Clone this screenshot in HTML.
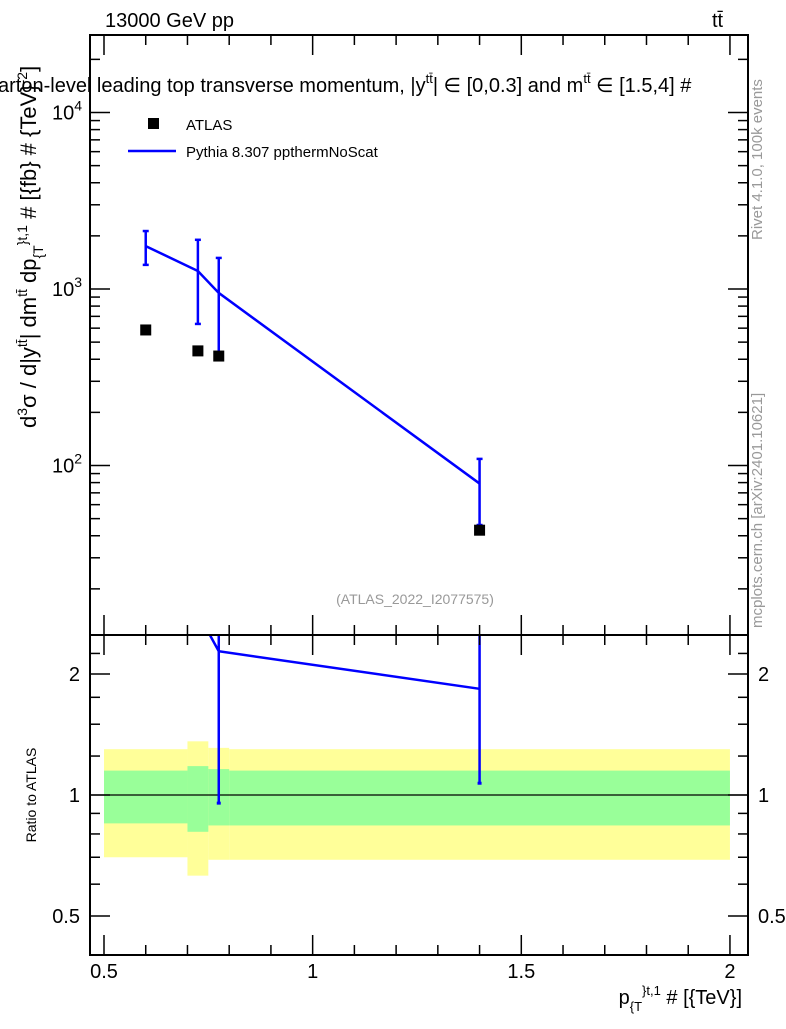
<!DOCTYPE html>
<html><head><meta charset="utf-8"><style>
body{margin:0;background:#fff;width:786px;height:1024px;overflow:hidden;font-family:"Liberation Sans",sans-serif}
svg text{font-family:"Liberation Sans","DejaVu Sans",sans-serif}
</style></head><body>
<svg id="c" width="786" height="1024" xmlns="http://www.w3.org/2000/svg">
<text x="105" y="27" font-size="20">13000 GeV pp</text>
<text x="712" y="27" font-size="20">tt̄</text>
<text x="-2" y="92" font-size="20">arton-level leading top transverse momentum, |y<tspan dy="-9" font-size="13">tt̄</tspan><tspan dy="9">| ∈ [0,0.3] and m</tspan><tspan dy="-9" font-size="13">tt̄</tspan><tspan dy="9"> ∈ [1.5,4] #</tspan></text>
<text transform="translate(762,240) rotate(-90)" font-size="15" fill="#999">Rivet 4.1.0,  100k events</text>
<text transform="translate(762,628) rotate(-90)" font-size="15" fill="#999">mcplots.cern.ch [arXiv:2401.10621]</text>
<text x="415" y="604" font-size="14" fill="#999" text-anchor="middle">(ATLAS_2022_I2077575)</text>
<text transform="translate(36,428) rotate(-90)" font-size="22" text-anchor="start">d<tspan dy="-9" font-size="14">3</tspan><tspan dy="9">σ / d|y</tspan><tspan dy="-9" font-size="14">tt̄</tspan><tspan dy="9">| dm</tspan><tspan dy="-9" font-size="14">tt̄</tspan><tspan dy="9"> dp</tspan><tspan dy="7" font-size="14">{T</tspan><tspan dy="-16" font-size="14">}t,1</tspan><tspan dy="9"> # [{fb} # {TeV}</tspan><tspan dy="-9" font-size="14">-2</tspan><tspan dy="9">]</tspan></text>
<text transform="translate(36,795) rotate(-90)" font-size="14" text-anchor="middle">Ratio to ATLAS</text>
<text x="742" y="1004" font-size="20" text-anchor="end">p<tspan dy="7" font-size="13">{T</tspan><tspan dy="-16" font-size="13">}t,1</tspan><tspan dy="9"> # [{TeV}]</tspan></text>
<rect x="148" y="118" width="11" height="11" fill="#000"/>
<text x="186" y="130" font-size="15">ATLAS</text>
<line x1="128" y1="151" x2="176" y2="151" stroke="#00f" stroke-width="2.5"/>
<text x="186" y="157" font-size="15">Pythia 8.307 ppthermNoScat</text>
<g id="g"></g>
</svg>
<script>
const xEdges=[0.5,0.7,0.75,0.8,2.0];
const xPts=[0.6,0.725,0.775,1.4];
const atlas=[586,446,417,43];
const pythia=[1750,1265,950,79];
const pyUp=[2130,1900,1500,109];
const pyDn=[1370,634,398,46];
const yellowUp=[1.30,1.36,1.31,1.30];
const yellowDn=[0.70,0.63,0.69,0.69];
const greenUp=[1.15,1.18,1.16,1.15];
const greenDn=[0.85,0.81,0.84,0.84];
const xTicks=[0.5,1,1.5,2];
const xTickLabels=["0.5","1","1.5","2"];
const rTicks=[0.5,1,2];
const rTickLabels=["0.5","1","2"];

const L=90,R=748,T=35,M=635,B=955;
const X=v=>104+(v-0.5)*417.3;
const Y=v=>289-(Math.log10(v)-3)*176.5;
const RY=v=>795-Math.log2(v)*121;
const g=document.getElementById('g');
const NS="http://www.w3.org/2000/svg";
function el(t,a,p){const e=document.createElementNS(NS,t);for(const k in a)e.setAttribute(k,a[k]);(p||g).appendChild(e);return e;}

const cp=el('clipPath',{id:'rc'});el('rect',{x:L,y:M,width:R-L,height:B-M},cp);
const rg=el('g',{'clip-path':'url(#rc)'});
for(let i=0;i<4;i++){
 const y=el('rect',{x:X(xEdges[i]),y:RY(yellowUp[i]),width:X(xEdges[i+1])-X(xEdges[i]),height:RY(yellowDn[i])-RY(yellowUp[i]),fill:'#ffff99'},rg);
 
 
}
for(let i=0;i<4;i++){
 const r=el('rect',{x:X(xEdges[i]),y:RY(greenUp[i]),width:X(xEdges[i+1])-X(xEdges[i]),height:RY(greenDn[i])-RY(greenUp[i]),fill:'#99ff99'},rg);
 
 
}
el('line',{x1:L,x2:R,y1:RY(1),y2:RY(1),stroke:'#000','stroke-width':1.2},rg);
let pts=xPts.map((x,i)=>X(x)+','+RY(pythia[i]/atlas[i])).join(' ');
const rl=el('polyline',{points:pts,fill:'none',stroke:'#00f','stroke-width':2.5},rg);


xPts.forEach((x,i)=>{
 const c=RY(pythia[i]/atlas[i]);if(c<M||c>B)return;
 const e=el('line',{x1:X(x),x2:X(x),y1:RY(pyUp[i]/atlas[i]),y2:RY(pyDn[i]/atlas[i]),stroke:'#00f','stroke-width':2.5},rg);
 
 
 el('line',{x1:X(x)-2,x2:X(x)+2,y1:RY(pyDn[i]/atlas[i]),y2:RY(pyDn[i]/atlas[i]),stroke:'#00f','stroke-width':3},rg);
});
const cp2=el('clipPath',{id:'mc'});el('rect',{x:L,y:T,width:R-L,height:M-T},cp2);
const mg=el('g',{'clip-path':'url(#mc)'});
const ml=el('polyline',{points:xPts.map((x,i)=>X(x)+','+Y(pythia[i])).join(' '),fill:'none',stroke:'#00f','stroke-width':2.5},mg);


xPts.forEach((x,i)=>{
 const e=el('line',{x1:X(x),x2:X(x),y1:Y(pyUp[i]),y2:Y(pyDn[i]),stroke:'#00f','stroke-width':2.5},mg);
 
 
 [pyUp[i],pyDn[i]].forEach(v=>el('line',{x1:X(x)-3,x2:X(x)+3,y1:Y(v),y2:Y(v),stroke:'#00f','stroke-width':2.5},mg));
 const m=el('rect',{x:X(x)-5.5,y:Y(atlas[i])-5.5,width:11,height:11,fill:'#000'},mg);
 
 
});
el('rect',{x:L,y:T,width:R-L,height:M-T,fill:'none',stroke:'#000','stroke-width':2});
el('rect',{x:L,y:M,width:R-L,height:B-M,fill:'none',stroke:'#000','stroke-width':2});
for(let d=1;d<=4;d++)for(let k=1;k<10;k++){
 const v=k*Math.pow(10,d),y=Y(v);if(y<T||y>M)continue;
 const len=k==1?20:10;
 el('line',{x1:L,x2:L+len,y1:y,y2:y,stroke:'#000','stroke-width':1.5});
 el('line',{x1:R,x2:R-len,y1:y,y2:y,stroke:'#000','stroke-width':1.5});
 if(k==1&&d>=2){const t=el('text',{x:L-8,y:y+7,'font-size':20,'text-anchor':'end'});t.innerHTML='10<tspan dy="-9" font-size="14">'+d+'</tspan>';
 
 }
}
[0.4,0.5,0.6,0.7,0.8,0.9,1,1.25,1.5,1.75,2,2.25,2.5].forEach(v=>{const y=RY(v);if(y<M||y>B)return;
 const len=rTicks.includes(v)?20:10;
 el('line',{x1:L,x2:L+len,y1:y,y2:y,stroke:'#000','stroke-width':1.5});
 el('line',{x1:R,x2:R-len,y1:y,y2:y,stroke:'#000','stroke-width':1.5});});
rTicks.forEach((v,i)=>{
 const a=el('text',{x:L-10,y:RY(v)+7,'font-size':20,'text-anchor':'end'});a.textContent=rTickLabels[i];
 
 
 const b=el('text',{x:R+10,y:RY(v)+7,'font-size':20});b.textContent=rTickLabels[i];
 
 
});
for(let v=0.5;v<=2.01;v+=0.1){const x=X(v),maj=Math.abs(v*2-Math.round(v*2))<1e-6;const len=maj?20:10;
 [[M,1],[B,-1],[T,1]].forEach(([y0,s])=>el('line',{x1:x,x2:x,y1:y0,y2:y0+s*len,stroke:'#000','stroke-width':1.5}));
 el('line',{x1:x,x2:x,y1:M,y2:M-len,stroke:'#000','stroke-width':1.5});}
xTicks.forEach((v,i)=>{const t=el('text',{x:X(v),y:978,'font-size':20,'text-anchor':'middle'});t.textContent=xTickLabels[i];
 
 });
</script>
</body></html>
